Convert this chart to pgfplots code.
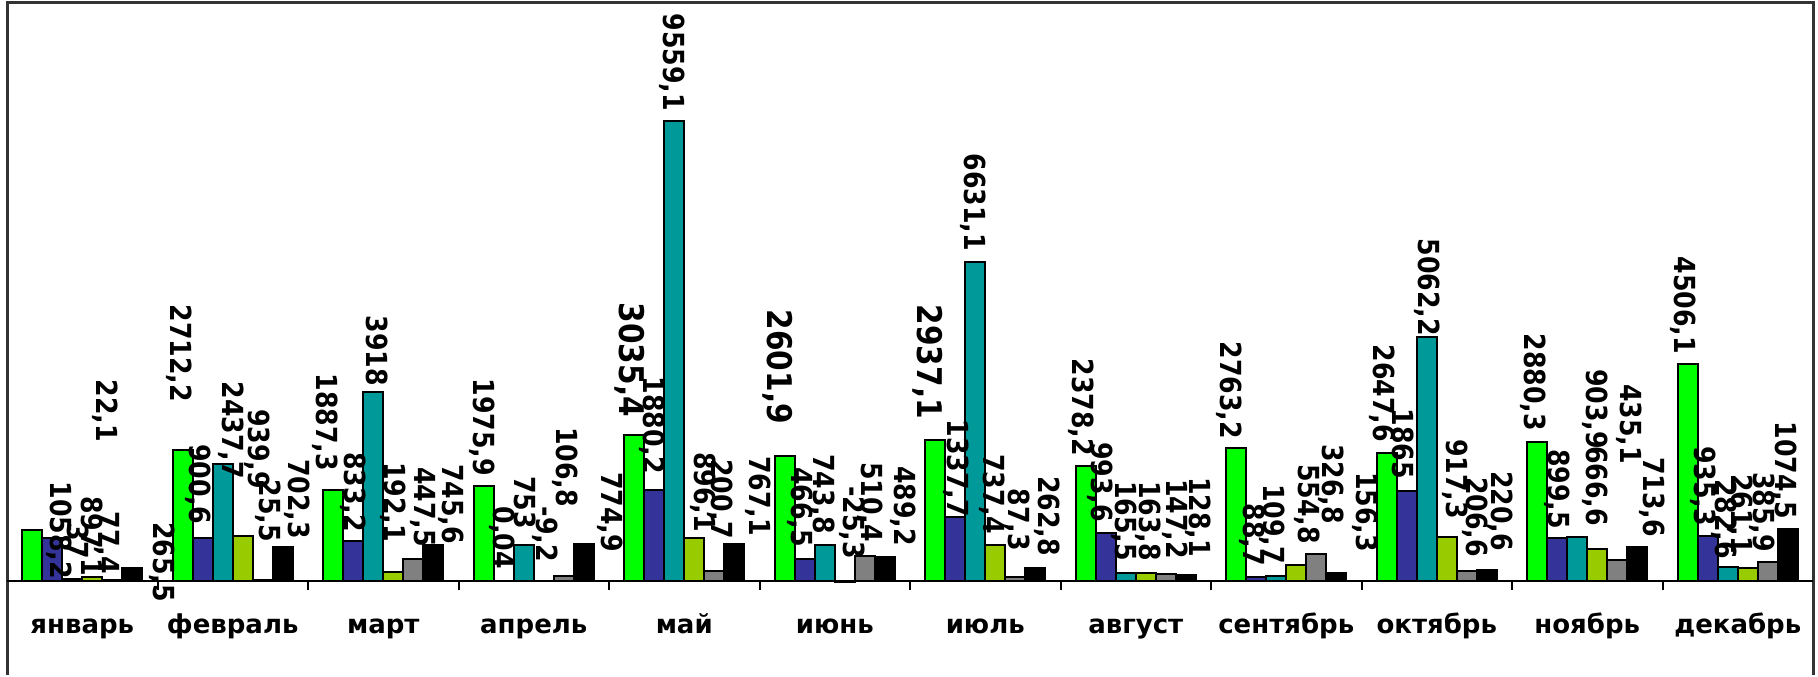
\documentclass[border=0pt]{standalone}
\usepackage{fontspec}
\setmainfont{DejaVu Sans}
\newfontfamily\lblfont{DejaVu Sans}[FakeStretch=0.87]
\usepackage{pgfplots}
\usepackage{pgfplotstable}
\pgfplotsset{compat=1.18}

\definecolor{cgreen}{HTML}{00FF00}
\definecolor{cblue}{HTML}{333399}
\definecolor{cteal}{HTML}{009999}
\definecolor{cyel}{HTML}{99CC00}
\definecolor{cgray}{HTML}{808080}

% monthly values, one column per series
\pgfplotstableread{
x green  blue   teal   yellow gray  black
0  1058.2 897.1  37     77.4   22.1  265.5
1  2712.2 900.6  2437.7 939.9  25.5  702.3
2  1887.3 833.2  3918   192.1  447.5 745.6
3  1975.9 0.04   753    -9.2   106.8 774.9
4  3035.4 1880.2 9559.1 896.1  200.7 767.1
5  2601.9 466.5  743.8  -25.3  510.4 489.2
6  2937.1 1337.7 6631.1 737.4  87.3  262.8
7  2378.2 993.6  165.5  163.8  147.2 128.1
8  2763.2 88.7   109.7  326.8  554.8 156.3
9  2647.6 1865   5062.2 917.3  206.6 220.6
10 2880.3 899.5  903.9  666.6  435.1 713.6
11 4506.1 935.3  282.6  261.1  385.9 1074.5
}\bars

% data labels where they sit in the chart
\pgfplotstableread{
x      y     lbl
0.151  2866  22,1
-0.154 21    1058,2
0.051  83    897,1
-0.028 436   37
0.164  125   77,4
0.530  -457  265,5
0.643  3697  2712,2
0.769  1163  900,6
0.988  2098  2437,7
1.161  1890  939,9
1.234  789   25,5
1.427  851   702,3
1.613  2264  1887,3
1.799  997   833,2
1.958  4029  3918
2.065  789   192,1
2.264  685   447,5
2.450  748   745,6
2.656  2160  1975,9
2.789  228   0,04
2.942  1059  753
3.075  374   -9,2
3.208  1516  106,8
3.507  581   774,9
3.786  2201  1880,2
3.919  9740  9559,1
4.125  997   896,1
4.238  851   200,7
4.490  914   767,1
4.769  685   466,5
4.915  955   743,8
5.115  436   -25,3
5.234  789   510,4
5.453  706   489,2
5.806  1308  1337,7
5.919  6833  6631,1
6.045  955   737,4
6.211  602   87,3
6.410  498   262,8
6.636  2575  2378,2
6.762  1205  993,6
6.922  395   165,5
7.081  395   163,8
7.261  436   147,2
7.414  478   128,1
7.620  2928  2763,2
7.772  291   88,7
7.905  332   109,7
8.138  748   554,8
8.297  1163  326,8
8.523  581   156,3
8.636  2866  2647,6
8.776  2098  1865
8.935  5067  5062,2
9.121  1267  917,3
9.254  478   206,6
9.420  602   220,6
9.640  3094  2880,3
9.799  1059  899,5
10.05  2721  903,9
10.05  1121  666,6
10.277 2409  435,1
10.430 893   713,6
10.636 4694  4506,1
10.769 1121  935,3
10.909 436   282,6
11.015 540   261,1
11.161 581   385,9
11.307 1267  1074,5
}\labels

\pgfplotstableread{
x      y     lbl
3.640  3385  3035,4
4.623  3240  2601,9
5.620  3344  2937,1
}\biglabels

\begin{document}
\begin{tikzpicture}
\begin{axis}[
    scale only axis, width=1806bp, height=672bp,
    xmin=-0.5, xmax=11.5, ymin=-1952, ymax=12000,
    axis line style={draw=none},
    ytick=\empty,
    xtick={0,...,11},
    xticklabels={январь,февраль,март,апрель,май,июнь,июль,август,сентябрь,октябрь,ноябрь,декабрь},
    xtick style={draw=none},
    xticklabel style={anchor=base, yshift=42bp, font=\bfseries\fontsize{26bp}{28bp}\selectfont},
    clip=false,
    every axis plot/.append style={draw=black, line width=2bp},
]
\addplot[ybar, bar width=0.1329, bar shift=-0.3322, fill=cgreen] table[x=x, y=green] {\bars};
\addplot[ybar, bar width=0.1329, bar shift=-0.1993, fill=cblue]  table[x=x, y=blue]  {\bars};
\addplot[ybar, bar width=0.1329, bar shift=-0.0664, fill=cteal]  table[x=x, y=teal]  {\bars};
\addplot[ybar, bar width=0.1329, bar shift=0.0664,  fill=cyel]   table[x=x, y=yellow]{\bars};
\addplot[ybar, bar width=0.1329, bar shift=0.1993,  fill=cgray]  table[x=x, y=gray]  {\bars};
\addplot[ybar, bar width=0.1329, bar shift=0.3322,  fill=black]  table[x=x, y=black] {\bars};

\addplot[draw=none, mark=none, nodes near coords, point meta=explicit symbolic,
    nodes near coords align={anchor=east},
    nodes near coords style={rotate=-90, anchor=east, inner sep=0pt, text=black,
        font=\lblfont\bfseries\fontsize{29bp}{30bp}\selectfont}]
    table[x=x, y=y, meta=lbl] {\labels};
\addplot[draw=none, mark=none, nodes near coords, point meta=explicit symbolic,
    nodes near coords align={anchor=east},
    nodes near coords style={rotate=-90, anchor=east, inner sep=0pt, text=black,
        font=\lblfont\bfseries\fontsize{34bp}{35bp}\selectfont}]
    table[x=x, y=y, meta=lbl] {\biglabels};

\draw[line width=3bp, black!80] (rel axis cs:0,0) -- (rel axis cs:0,1) -- (rel axis cs:1,1) -- (rel axis cs:1,0);
\draw[line width=2bp] (axis cs:-0.5,0) -- (axis cs:11.5,0);
\pgfplotsinvokeforeach{0.5,1.5,2.5,3.5,4.5,5.5,6.5,7.5,8.5,9.5,10.5}{
    \draw[line width=2bp] (axis cs:#1,0) -- (axis cs:#1,-187);
}
\end{axis}
\path (current axis.south west) ++(-7bp,0) (current axis.north east) ++(5bp,3bp);
\end{tikzpicture}
\end{document}
